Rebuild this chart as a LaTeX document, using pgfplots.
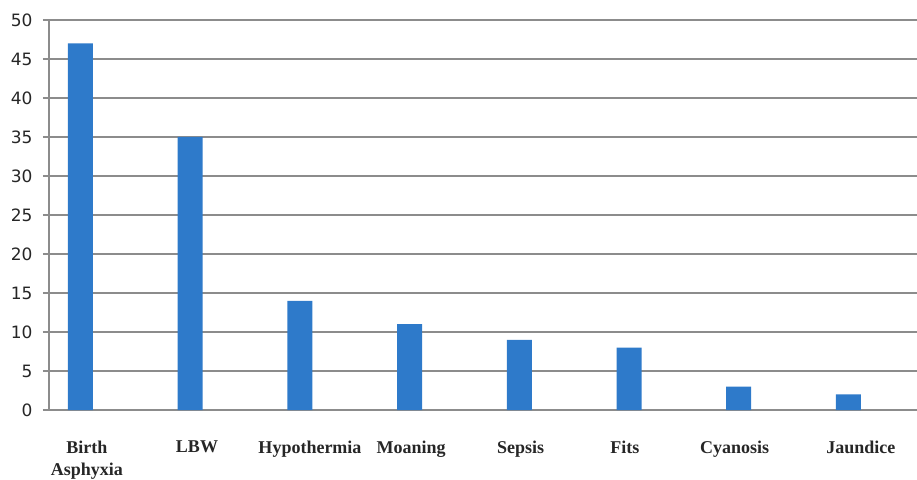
\documentclass[border=0pt]{standalone}
\usepackage{fontspec}
\setmainfont{Liberation Serif}
\newfontfamily\dejavu{DejaVu Sans}
\usepackage{pgfplots}
\pgfplotsset{compat=1.18}
\definecolor{barblue}{RGB}{46,122,202}
\definecolor{gridgray}{RGB}{140,140,140}
\begin{document}
\begin{tikzpicture}[x=1pt,y=1pt]
\useasboundingbox (-49pt,-69pt) rectangle (868pt,410pt);
\begin{axis}[
  at={(0,0)}, anchor=south west,
  scale only axis, width=868pt, height=390pt,
  xmin=0, xmax=7.912, ymin=0, ymax=50,
  axis lines=left, axis line style={gridgray, line width=1.2pt, -},
  ytick={0,5,...,50},
  ymajorgrids, grid style={gridgray, line width=1.2pt},
  major tick length=6pt, tick align=outside,
  tick style={gridgray, line width=1.2pt},
  yticklabel style={font=\dejavu\fontsize{17}{19}\selectfont, text=black!85, xshift=-7pt},
  /pgf/number format/assume math mode=true,
  xtick={0.346,1.349,2.379,3.30,4.30,5.25,6.25,7.40},
  xticklabels={{Birth\\Asphyxia},LBW,Hypothermia,Moaning,Sepsis,Fits,Cyanosis,Jaundice},
  x tick style={draw=none},
  xticklabel style={font=\bfseries\fontsize{18}{22}\selectfont, align=center, text=black!85, yshift=-21pt},
  extra x ticks={0,1,2,3,4,5,6,7},
  extra x tick labels={},
  extra x tick style={grid=none, tick style={draw=gridgray, line width=1.2pt}},
  clip=false,
]
\addplot[ybar, bar width=25pt, fill=barblue, draw=none] coordinates {
  (0.287,47) (1.287,35) (2.287,14) (3.287,11) (4.287,9) (5.287,8) (6.287,3) (7.287,2)
};
\end{axis}
\end{tikzpicture}
\end{document}
